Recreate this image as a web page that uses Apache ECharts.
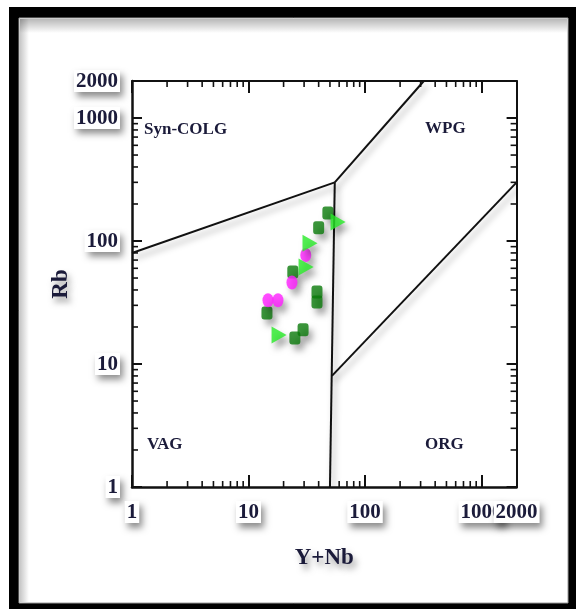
<!DOCTYPE html>
<html>
<head>
<meta charset="utf-8">
<script src="https://cdn.jsdelivr.net/npm/echarts@6/dist/echarts.min.js"></script>
<style>
html,body{margin:0;padding:0;background:#fff;}
#chart{width:576px;height:609px;}
</style>
</head>
<body>
<div id="chart"></div>
<script>
// ---- Data (Y+Nb, Rb) ----
const groupSquares = [[48,169],[40,128],[24,56],[14.4,26],[38.7,38.5],[38.7,32],[29.4,19],[25,16.3]];
const groupCircles = [[31,77],[23.6,46],[14.7,33],[17.9,33]];
const groupTriangles = [[58.7,143],[33.7,96],[31.2,61.5],[18.3,17.2]];

// Pearce et al. (1984) field boundaries
const lineVagSyn = [[1,80],[55,300]];
const lineSynWpg = [[55,300],[320,2000]];
const lineVagOrg = [[55,300],[50,1]];
const lineWpgOrg = [[52,8],[2000,300]];

// Axis ticks
const tickLabels = {1:'1',10:'10',100:'100',1000:'1000',2000:'2000'};
const xMaxLabel = 2000;
const minorTicks = [2,3,4,5,6,7,8,9,20,30,40,50,60,70,80,90,200,300,400,500,600,700,800,900];
const regionLabels = ['Syn-COLG','WPG','VAG','ORG'];

const FONT = 'Liberation Serif';
const TXT = '#1b1b3a';

const boxRich = {b:{
  fontFamily: FONT, fontWeight: 'bold', fontSize: 21, color: TXT,
  backgroundColor: '#fff', padding: [1, 2, 0, 2],
  shadowColor: 'rgba(0,0,0,0.45)', shadowBlur: 7, shadowOffsetX: 3, shadowOffsetY: 5,
  textShadowColor: 'rgba(210,120,20,0.55)', textShadowBlur: 0, textShadowOffsetX: -1
}};
const lbl = v => { const k = Math.round(v); return '{b|' + (tickLabels[k] !== undefined ? tickLabels[k] : String(v)) + '}'; };

const lineShadow = {shadowColor:'rgba(0,0,0,0.35)', shadowBlur:6, shadowOffsetX:3, shadowOffsetY:5};

function boundary(data){
  return {
    type:'line', data:data, symbol:'none', silent:true, z:3,
    lineStyle:Object.assign({color:'#111', width:2}, lineShadow)
  };
}
const markShadow = {shadowColor:'rgba(0,0,0,0.4)', shadowBlur:6, shadowOffsetX:4, shadowOffsetY:6};

const chart = echarts.init(document.getElementById('chart'), null, {renderer:'canvas'});

const regionText = (txt, x, y) => ({
  type:'text', x:x, y:y, z:50,
  style:{text:txt, font:'bold 17px "' + FONT + '"', fill:TXT, textVerticalAlign:'middle',
    shadowColor:'rgba(0,0,0,0.45)', shadowBlur:6, shadowOffsetX:3, shadowOffsetY:5}
});

const nameStyle = {fontFamily:FONT, fontWeight:'bold', fontSize:23, color:TXT,
  textShadowColor:'rgba(0,0,0,0.4)', textShadowBlur:6, textShadowOffsetX:3, textShadowOffsetY:5};

chart.setOption({
  animation:false,
  backgroundColor:'#fff',
  grid:{left:132, top:81, width:384.6, height:406, outerBoundsMode:'none', containLabel:false},
  graphic:[
    {type:'rect', z:-100, shape:{x:9,y:7,width:567,height:602}, style:{fill:'#000'}},
    {type:'rect', z:-99, shape:{x:19,y:18,width:549,height:585}, style:{fill:'#fff', stroke:'#9a9a9a', lineWidth:1}},
    {type:'rect', z:-98, shape:{x:20,y:19,width:547,height:14},
      style:{fill:new echarts.graphic.LinearGradient(0,0,0,1,[{offset:0,color:'rgba(0,0,0,0.28)'},{offset:1,color:'rgba(0,0,0,0)'}])}},
    {type:'rect', z:-98, shape:{x:20,y:19,width:9,height:583},
      style:{fill:new echarts.graphic.LinearGradient(0,0,1,0,[{offset:0,color:'rgba(0,0,0,0.22)'},{offset:1,color:'rgba(0,0,0,0)'}])}},
    regionText(regionLabels[0], 144, 130),
    regionText(regionLabels[1], 425, 129),
    regionText(regionLabels[2], 147, 445),
    regionText(regionLabels[3], 425, 445)
  ],
  xAxis:[{
    type:'log', logBase:10, min:1, max:2000, position:'bottom',
    axisLine:{lineStyle:{color:'#111', width:2.5}},
    axisTick:{inside:true, length:12, lineStyle:{color:'#111', width:2}},
    axisLabel:{margin:14, showMinLabel:true, showMaxLabel:false, hideOverlap:false, rich:boxRich,
      formatter: v => Math.round(v) === xMaxLabel ? '' : lbl(v)},
    splitLine:{show:false},
    name:'Y+Nb', nameLocation:'middle', nameGap:60, nameMoveOverlap:false, nameTextStyle:nameStyle
  },{
    type:'log', logBase:10, min:1, max:2000, position:'top',
    axisLine:{lineStyle:{color:'#111', width:2}},
    axisTick:{inside:true, length:12, lineStyle:{color:'#111', width:2}},
    axisLabel:{show:false}, splitLine:{show:false}
  },{
    type:'log', logBase:10, min:1, max:2000, position:'bottom', offset:0,
    axisLine:{show:false}, axisTick:{show:false}, splitLine:{show:false},
    axisLabel:{margin:14, showMinLabel:false, showMaxLabel:true, hideOverlap:false, rich:boxRich,
      formatter: v => Math.round(v) === xMaxLabel ? lbl(v) : ''}
  }],
  yAxis:[{
    type:'log', logBase:10, min:1, max:2000, position:'left',
    axisLine:{lineStyle:{color:'#111', width:2.5}},
    axisTick:{inside:true, length:10, lineStyle:{color:'#111', width:2}},
    axisLabel:{margin:12, showMinLabel:true, showMaxLabel:true, hideOverlap:false, rich:boxRich, formatter:lbl},
    splitLine:{show:false},
    name:'Rb', nameLocation:'middle', nameGap:59, nameRotate:90, nameMoveOverlap:false, nameTextStyle:nameStyle
  },{
    type:'log', logBase:10, min:1, max:2000, position:'right',
    axisLine:{lineStyle:{color:'#111', width:2}},
    axisTick:{inside:true, length:10, lineStyle:{color:'#111', width:2}},
    axisLabel:{show:false}, splitLine:{show:false}
  }],
  series:[
    {
      type:'custom', silent:true, z:4, clip:false,
      data:minorTicks.map(v => [v, v]),
      encode:{x:0, y:1},
      renderItem:function(params, api){
        const v = api.value(0);
        const b = api.coord([v, 1]);
        const t = api.coord([v, 2000]);
        const l = api.coord([1, v]);
        const r = api.coord([2000, v]);
        const st = {stroke:'#111', lineWidth:1.6};
        const L = 6;
        return {type:'group', children:[
          {type:'line', shape:{x1:b[0], y1:b[1], x2:b[0], y2:b[1]-L}, style:st},
          {type:'line', shape:{x1:t[0], y1:t[1], x2:t[0], y2:t[1]+L}, style:st},
          {type:'line', shape:{x1:l[0], y1:l[1], x2:l[0]+L, y2:l[1]}, style:st},
          {type:'line', shape:{x1:r[0], y1:r[1], x2:r[0]-L, y2:r[1]}, style:st}
        ]};
      }
    },
    boundary(lineVagSyn),
    boundary(lineSynWpg),
    boundary(lineVagOrg),
    boundary(lineWpgOrg),
    {
      type:'scatter', data:groupSquares, symbol:'roundRect', symbolSize:[11,13], z:5,
      itemStyle:Object.assign({color:'#0a7a0a'}, markShadow)
    },
    {
      type:'scatter', data:groupCircles, symbol:'circle', symbolSize:[11,14], z:6,
      itemStyle:Object.assign({color:'#ff1eff'}, markShadow)
    },
    {
      type:'scatter', data:groupTriangles, symbol:'triangle', symbolRotate:-90, symbolSize:[17,15], z:7,
      itemStyle:Object.assign({color:'#27ea27'}, markShadow)
    }
  ]
});
</script>
</body>
</html>
